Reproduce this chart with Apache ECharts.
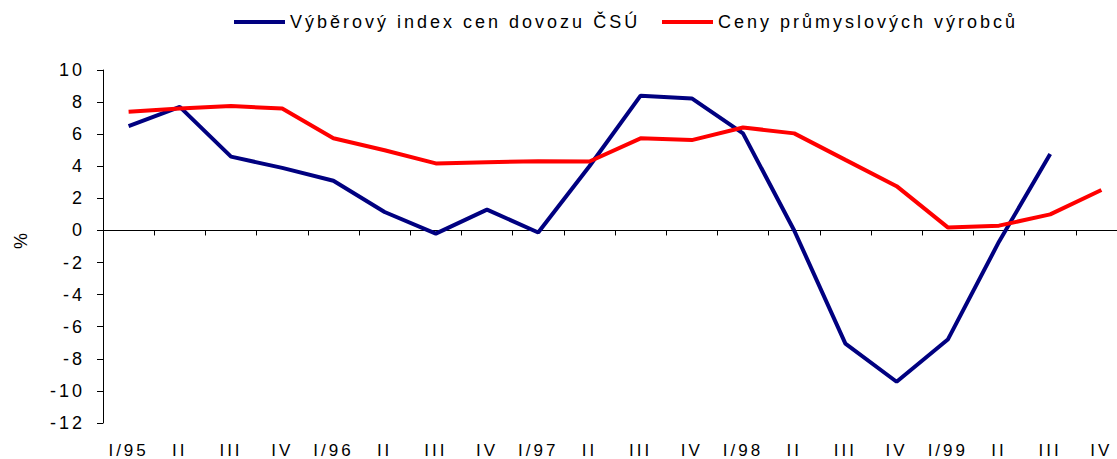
<!DOCTYPE html>
<html>
<head>
<meta charset="utf-8">
<script src="https://cdn.jsdelivr.net/npm/echarts@6/dist/echarts.min.js"></script>
<style>
  html, body { margin: 0; padding: 0; background: #fff; }
  #chart { width: 1117px; height: 459px; }
  #chart text { letter-spacing: 3px; }
</style>
</head>
<body>
<div id="chart"></div>
<script>
// Quarterly categories, 1995-1999
const quarters = ['I/95', 'II', 'III', 'IV', 'I/96', 'II', 'III', 'IV', 'I/97', 'II',
                  'III', 'IV', 'I/98', 'II', 'III', 'IV', 'I/99', 'II', 'III', 'IV'];

// Year-on-year change, %
const importIndex = [6.5, 7.7, 4.6, 3.9, 3.1, 1.15, -0.2, 1.3, -0.13, 4.0,
                     8.4, 8.23, 6.05, 0.0, -7.05, -9.43, -6.8, -0.7, 4.77, null];
const producerPrices = [7.4, 7.6, 7.75, 7.6, 5.75, 5.0, 4.18, 4.25, 4.32, 4.3,
                        5.74, 5.63, 6.42, 6.05, 4.4, 2.76, 0.19, 0.3, 1.0, 2.52];

const seriesNames = ['Výběrový index cen dovozu ČSÚ', 'Ceny průmyslových výrobců'];
const yTicks = { min: -12, max: 10, step: 2 };

const font = '"Liberation Sans", Arial, sans-serif';
const chart = echarts.init(document.getElementById('chart'), null, { renderer: 'svg' });

chart.setOption({
  animation: false,
  textStyle: { fontFamily: font, color: '#000' },
  grid: { left: 103, right: -10, top: 70, bottom: 36, containLabel: false, outerBoundsMode: 'none' },
  legend: [
    {
      data: [seriesNames[0]], left: 234, top: 13, padding: 0,
      icon: 'rect', itemWidth: 51, itemHeight: 4,
      textStyle: { fontFamily: font, fontSize: 18, color: '#000' }
    },
    {
      data: [seriesNames[1]], left: 662, top: 13, padding: 0,
      icon: 'rect', itemWidth: 51, itemHeight: 4,
      textStyle: { fontFamily: font, fontSize: 18, color: '#000' }
    }
  ],
  xAxis: [
    {
      type: 'category', data: quarters, boundaryGap: true, position: 'bottom',
      axisLine: { onZero: true, lineStyle: { color: '#000', width: 1 } },
      axisTick: { show: true, length: 5, lineStyle: { color: '#000' } },
      axisLabel: { show: false },
      splitLine: { show: false }
    },
    {
      type: 'category', data: quarters, boundaryGap: true, position: 'bottom',
      axisLine: { show: false, onZero: false },
      axisTick: { show: false },
      axisLabel: {
        show: true, margin: 19, fontSize: 17, lineHeight: 17,
        color: '#000', fontFamily: font, interval: 0
      },
      splitLine: { show: false }
    }
  ],
  yAxis: {
    type: 'value', min: yTicks.min, max: yTicks.max, interval: yTicks.step,
    axisLine: { show: true, lineStyle: { color: '#000', width: 1 } },
    axisTick: { show: true, length: 6, lineStyle: { color: '#000' } },
    axisLabel: { margin: 18, fontSize: 18, color: '#000', fontFamily: font },
    splitLine: { show: false }
  },
  graphic: [{
    type: 'text', x: 12, y: 249, rotation: Math.PI / 2,
    style: { text: '%', fontSize: 18, fontFamily: font, fill: '#000' }
  }],
  series: [
    {
      name: seriesNames[0], type: 'line', data: importIndex, xAxisIndex: 0,
      symbol: 'none', color: '#000080',
      lineStyle: { width: 4, color: '#000080' }
    },
    {
      name: seriesNames[1], type: 'line', data: producerPrices, xAxisIndex: 0,
      symbol: 'none', color: '#ff0000',
      lineStyle: { width: 4, color: '#ff0000' }
    }
  ]
});
</script>
</body>
</html>
